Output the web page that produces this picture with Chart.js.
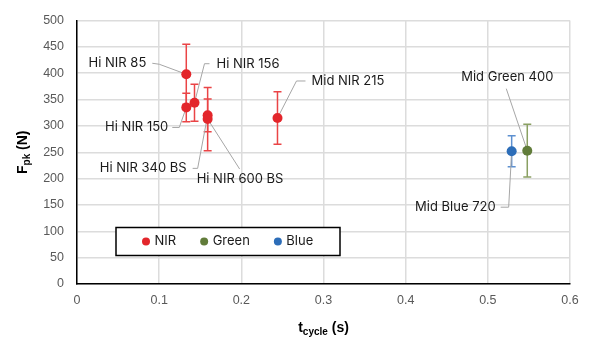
<!DOCTYPE html>
<html>
<head>
<meta charset="utf-8">
<script src="https://cdn.jsdelivr.net/npm/chart.js@4"></script>
<style>
  html, body { margin: 0; padding: 0; background: #fff; }
  #wrap { width: 592px; height: 338px; }
</style>
</head>
<body>
<div id="wrap"><canvas id="chart"></canvas></div>
<script>
const nirNames = ['Hi NIR 85', 'Hi NIR 156', 'Hi NIR 150', 'Hi NIR 340 BS', 'Hi NIR 600 BS', 'Mid NIR 215'];
const nirX = [0.133, 0.143, 0.133, 0.159, 0.159, 0.244];
const nirY = [398, 344, 335, 320, 313, 315];
const nirErr = [57, 35, 27, 31, 60, 50];

const greenNames = ['Mid Green 400'];
const greenX = [0.548];
const greenY = [253];
const greenErr = [50];

const blueNames = ['Mid Blue 720'];
const blueX = [0.529];
const blueY = [252];
const blueErr = [29.5];

const xTickLabels = ['0', '0.1', '0.2', '0.3', '0.4', '0.5', '0.6'];
const yTickLabels = ['0', '50', '100', '150', '200', '250', '300', '350', '400', '450', '500'];

// label placement, pixels relative to the point (same order as the names above)
const labelLayout = {
  'Hi NIR 85':     { dx: -40, dy: -11, align: 'right', leader: [[-34, -11], [-27, -10]] },
  'Hi NIR 156':    { dx: 22, dy: -39, align: 'left', leader: [[15, -39], [10, -39]] },
  'Hi NIR 150':    { dx: -18, dy: 20, align: 'right', leader: [[-14, 20], [-7, 20]] },
  'Hi NIR 340 BS': { dx: -21, dy: 53, align: 'right', leader: [[-15, 53], [-10, 53]] },
  'Hi NIR 600 BS': { dx: -11, dy: 60, align: 'left', leader: [[32, 50]] },
  'Mid NIR 215':   { dx: 34, dy: -37, align: 'left', leader: [[28, -37], [19, -37]] },
  'Mid Green 400': { dx: -20, dy: -74, align: 'center', leader: [[-21, -62]] },
  'Mid Blue 720':  { dx: -16, dy: 56, align: 'right', leader: [[-11, 56], [-3, 56]] }
};

function toPoints(xs, ys) {
  return xs.map((x, i) => ({ x: x, y: ys[i] }));
}

const errorBars = {
  id: 'errorBars',
  beforeDatasetsDraw(chart) {
    const ctx = chart.ctx;
    const xs = chart.scales.x;
    const ys = chart.scales.y;
    ctx.save();
    // error bars
    chart.data.datasets.forEach(ds => {
      ctx.strokeStyle = ds.errorColor;
      ctx.lineWidth = 1.5;
      ds.data.forEach((p, i) => {
        const px = xs.getPixelForValue(p.x);
        const top = ys.getPixelForValue(p.y + ds.errors[i]);
        const bot = ys.getPixelForValue(p.y - ds.errors[i]);
        ctx.beginPath();
        ctx.moveTo(px, top); ctx.lineTo(px, bot);
        ctx.moveTo(px - 4, top); ctx.lineTo(px + 4, top);
        ctx.moveTo(px - 4, bot); ctx.lineTo(px + 4, bot);
        ctx.stroke();
      });
    });
    // leader lines
    ctx.strokeStyle = '#a6a6a6';
    ctx.lineWidth = 1;
    chart.data.datasets.forEach(ds => {
      ds.data.forEach((p, i) => {
        const lay = labelLayout[ds.names[i]];
        const px = xs.getPixelForValue(p.x);
        const py = ys.getPixelForValue(p.y);
        ctx.beginPath();
        ctx.moveTo(px + lay.leader[0][0], py + lay.leader[0][1]);
        lay.leader.slice(1).forEach(l => ctx.lineTo(px + l[0], py + l[1]));
        ctx.lineTo(px, py);
        ctx.stroke();
      });
    });
    ctx.restore();
  },
  afterDatasetsDraw(chart) {
    const ctx = chart.ctx;
    const xs = chart.scales.x;
    const ys = chart.scales.y;
    ctx.save();
    ctx.font = '13px Inter';
    ctx.fillStyle = '#1a1a1a';
    ctx.textBaseline = 'middle';
    chart.data.datasets.forEach(ds => {
      ds.data.forEach((p, i) => {
        const lay = labelLayout[ds.names[i]];
        const px = xs.getPixelForValue(p.x);
        const py = ys.getPixelForValue(p.y);
        ctx.textAlign = lay.align;
        ctx.fillText(ds.names[i], px + lay.dx, py + lay.dy);
      });
    });
    ctx.restore();
  }
};

const boxLegend = {
  id: 'boxLegend',
  afterDraw(chart) {
    const ctx = chart.ctx;
    const a = chart.chartArea;
    const left = a.left + 39, top = a.top + 207, w = 224, h = 28;
    ctx.save();
    ctx.fillStyle = '#fff';
    ctx.fillRect(left, top, w, h);
    ctx.strokeStyle = '#000';
    ctx.lineWidth = 1.5;
    ctx.strokeRect(left, top, w, h);
    ctx.font = '13px Inter';
    ctx.textBaseline = 'middle';
    ctx.textAlign = 'left';
    let cx = left + 26;
    const cy = top + h / 2;
    chart.data.datasets.forEach(ds => {
      ctx.fillStyle = ds.backgroundColor;
      ctx.beginPath();
      ctx.arc(cx + 4, cy, 4, 0, Math.PI * 2);
      ctx.fill();
      ctx.fillStyle = '#1a1a1a';
      ctx.fillText(ds.label, cx + 12.5, cy);
      cx += 12.5 + ctx.measureText(ds.label).width + 24;
    });
    ctx.restore();
  }
};

const axisTitles = {
  id: 'axisTitles',
  afterDraw(chart) {
    const ctx = chart.ctx;
    const a = chart.chartArea;
    ctx.save();
    ctx.fillStyle = '#000';
    ctx.textBaseline = 'alphabetic';
    ctx.textAlign = 'left';
    const big = 'bold 14px "Liberation Sans"';
    const small = 'bold 10px "Liberation Sans"';
    function drawParts(parts, cx, cy) {
      let total = 0;
      parts.forEach(pt => { ctx.font = pt[1]; total += ctx.measureText(pt[0]).width; });
      let x = cx - total / 2;
      parts.forEach(pt => {
        ctx.font = pt[1];
        ctx.fillText(pt[0], x, cy + pt[2]);
        x += ctx.measureText(pt[0]).width;
      });
    }
    // x title
    drawParts([['t', big, 0], ['cycle', small, 3], [' (s)', big, 0]], (a.left + a.right) / 2, 332);
    // y title
    ctx.translate(27, (a.top + a.bottom) / 2);
    ctx.rotate(-Math.PI / 2);
    drawParts([['F', big, 0], ['pk', small, 3], [' (N)', big, 0]], 0, 0);
    ctx.restore();
  }
};

new Chart(document.getElementById('chart'), {
  type: 'scatter',
  data: {
    datasets: [
      {
        label: 'NIR',
        data: toPoints(nirX, nirY),
        errors: nirErr,
        names: nirNames,
        backgroundColor: '#e3262b',
        errorColor: '#ea4446',
        pointRadius: 5,
        pointBorderWidth: 0
      },
      {
        label: 'Green',
        data: toPoints(greenX, greenY),
        errors: greenErr,
        names: greenNames,
        backgroundColor: '#617c3a',
        errorColor: '#8aa062',
        pointRadius: 5,
        pointBorderWidth: 0
      },
      {
        label: 'Blue',
        data: toPoints(blueX, blueY),
        errors: blueErr,
        names: blueNames,
        backgroundColor: '#2c6db8',
        errorColor: '#5d90d0',
        pointRadius: 5,
        pointBorderWidth: 0
      }
    ]
  },
  options: {
    responsive: true,
    maintainAspectRatio: false,
    animation: false,
    layout: { padding: { left: 0, right: 22, top: 18, bottom: 0 } },
    scales: {
      x: {
        type: 'linear',
        min: 0,
        max: 0.6,
        afterFit: s => { s.height = 54; },
        grid: { color: '#dcdcdc', lineWidth: 1.5, drawTicks: false },
        border: { color: '#000', width: 1.5 },
        ticks: {
          stepSize: 0.1,
          padding: 9,
          color: '#595959',
          font: { family: 'Liberation Sans', size: 12.5 },
          callback: (v, i) => xTickLabels[i]
        }
      },
      y: {
        min: 0,
        max: 500,
        afterFit: s => { s.width = 77; },
        grid: { color: '#dcdcdc', lineWidth: 1.5, drawTicks: false },
        border: { color: '#000', width: 1.5 },
        ticks: {
          stepSize: 50,
          padding: 13,
          color: '#595959',
          font: { family: 'Liberation Sans', size: 12.5 },
          callback: (v, i) => yTickLabels[i]
        }
      }
    },
    plugins: {
      legend: { display: false },
      tooltip: { enabled: false }
    }
  },
  plugins: [errorBars, boxLegend, axisTitles]
});
</script>
</body>
</html>
